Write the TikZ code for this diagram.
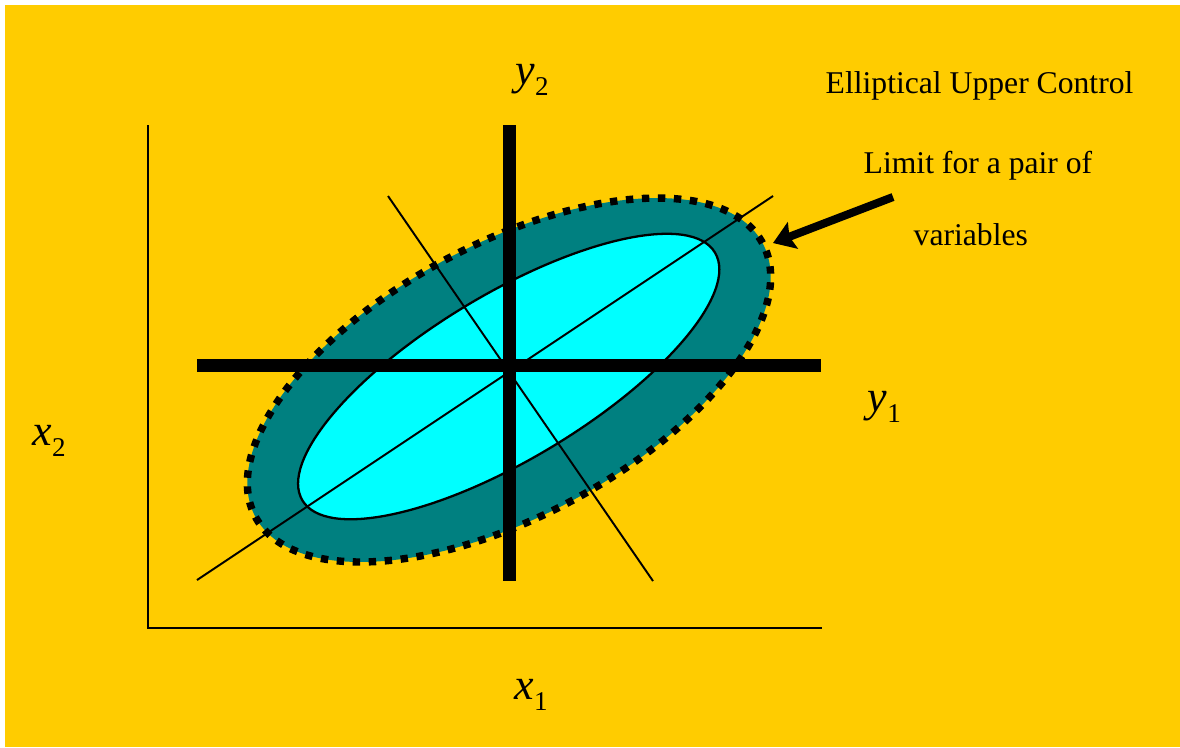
\documentclass[tikz,border=0pt]{standalone}
\usepackage{fontspec}
\setmainfont{Liberation Serif}
\usetikzlibrary{arrows.meta, shapes.geometric}
\definecolor{slidebg}{HTML}{FFCC00}
\definecolor{bandfill}{HTML}{008080}
\definecolor{corefill}{HTML}{00FFFF}
\tikzset{
  axisline/.style={line width=0.55pt, draw=black},
  pcline/.style={line width=0.55pt, draw=black},
  bigcross/.style={line width=3.7pt, draw=black},
  outerlimit/.style={ellipse, draw=black, fill=bandfill, line width=2.1pt,
                     dash pattern=on 2.1pt off 2.45pt, inner sep=0pt,
                     minimum width=5.76cm, minimum height=2.72cm, rotate=28.4},
  innerlimit/.style={ellipse, draw=black, fill=corefill, line width=0.65pt,
                     inner sep=0pt, minimum width=4.81cm, minimum height=1.65cm,
                     rotate=31},
  varlab/.style={anchor=base west, inner sep=0pt},
  note/.style={anchor=base west, inner sep=0pt, font=\fontsize{9}{11}\selectfont},
  pointer/.style={-{Stealth[length=6pt, width=8pt, inset=1pt]}, line width=2.3pt,
                  draw=black},
}
\newcommand{\varname}[2]{\fontsize{12.5}{14}\selectfont\textit{#1}%
  \raisebox{-3.4pt}{\fontsize{7.7}{9}\selectfont #2}}

\begin{document}
\begin{tikzpicture}[x=0.01cm, y=-0.01cm]
\useasboundingbox (0,0) rectangle (1180,747);

% Slide background
\fill[white] (0,0) rectangle (1180,747);
\fill[slidebg] (5,5) rectangle (1180,747);

% Control limit ellipses
\node[outerlimit] (outer) at (509,380) {};
\node[innerlimit] (inner) at (508.7,376.5) {};

% Thin axes through the ellipse
\coordinate (majA) at (197,580);
\coordinate (majB) at (773,196);
\coordinate (minA) at (388,196);
\coordinate (minB) at (653,581);
\draw[pcline] (majA) -- (majB);
\draw[pcline] (minA) -- (minB);

% Heavy y1 / y2 cross
\coordinate (vtop) at (509,125);
\coordinate (vbot) at (509,581);
\coordinate (hleft) at (197,365);
\coordinate (hright) at (821,365);
\draw[bigcross] (vtop) -- (vbot);
\draw[bigcross] (hleft) -- (hright);

% x1 / x2 frame
\coordinate (origin) at (148,628);
\coordinate (ytop) at (148,125);
\coordinate (xend) at (822,628);
\draw[axisline] (ytop) -- (origin) -- (xend);

% Axis labels
\node[varlab] (lx2) at (32,445) {\varname{x}{2}};
\node[varlab] (lx1) at (514,699) {\varname{x}{1}};
\node[varlab] (ly2) at (515,84) {\varname{y}{2}};
\node[varlab] (ly1) at (867,411) {\varname{y}{1}};

% Annotation
\node[note] (title1) at (825,93) {Elliptical Upper Control};
\node[note] (title2) at (863,173) {Limit for a pair of};
\node[note] (title3) at (913,245) {variables};
\coordinate (arrtail) at (893,197);
\coordinate (arrtip) at (773,243);
\draw[pointer] (arrtail) -- (arrtip);

\end{tikzpicture}
\end{document}
